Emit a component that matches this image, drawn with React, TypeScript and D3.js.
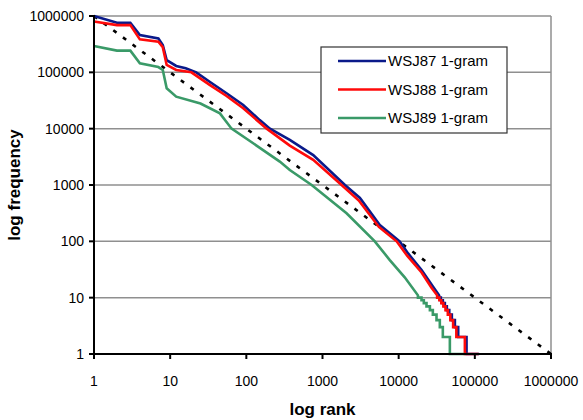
import * as d3 from 'd3';

// rank / frequency readings, upper (smooth) part of each curve
const ranks87 = [1, 2, 3, 4, 7, 8, 9, 12, 16, 22, 33, 55, 91, 150, 204, 372, 755, 1970, 3100, 5650, 10300, 13300, 20000, 28000, 34000];
const freq87 = [1000000, 760000, 760000, 460000, 400000, 305000, 165000, 130000, 118000, 100000, 68000, 42600, 26300, 14200, 10000, 6300, 3400, 1000, 590, 195, 100, 61, 31, 16, 11];

const ranks88 = [1, 2, 3, 4, 7, 8, 9, 12, 19, 33, 55, 91, 185, 372, 755, 1780, 3000, 5500, 9400, 13000, 20000, 27000, 32000];
const freq88 = [800000, 690000, 690000, 385000, 350000, 280000, 135000, 110000, 100000, 60000, 38000, 23000, 10000, 5000, 2800, 1000, 530, 180, 100, 55, 28, 15, 11];

const ranks89 = [1, 2, 3, 4, 7, 8, 9, 12, 25, 45, 64, 123, 275, 372, 720, 2070, 4860, 7600, 12000, 17900];
const freq89 = [293000, 243000, 243000, 145000, 124000, 110000, 52000, 37000, 28000, 18700, 10000, 5500, 2600, 1850, 1000, 315, 100, 47, 23, 11];

// low-frequency tail: last rank that has each frequency
const tailFreqs = [10, 9, 8, 7, 6, 5, 4, 3, 2, 1];
const tail87 = [35800, 38000, 40400, 42900, 46200, 49900, 54700, 60500, 77800, 114000];
const tail88 = [34200, 36300, 38600, 41200, 44200, 47700, 51900, 57200, 74000, 112000];
const tail89 = [19950, 21400, 23200, 25700, 28100, 31400, 34700, 38000, 47000, 74000];

const zipfRanks = [1, 1000000];
const zipfFreqs = [1000000, 1];

const xTicks = [1, 10, 100, 1000, 10000, 100000, 1000000];
const yTicks = [1, 10, 100, 1000, 10000, 100000, 1000000];

const series = [
  { name: 'WSJ87 1-gram', color: '#0a1a8a', ranks: ranks87, freqs: freq87, tail: tail87 },
  { name: 'WSJ88 1-gram', color: '#ff0a0a', ranks: ranks88, freqs: freq88, tail: tail88 },
  { name: 'WSJ89 1-gram', color: '#3a9a68', ranks: ranks89, freqs: freq89, tail: tail89 },
];

const W = 583;
const H = 420;
const margin = { left: 94, right: 32, top: 16, bottom: 66 };

function buildPoints(ranks: number[], freqs: number[], tail: number[]) {
  const pts: [number, number][] = ranks.map((r, i) => [r, freqs[i]]);
  let prev = ranks[ranks.length - 1];
  tailFreqs.forEach((f, i) => {
    pts.push([prev, f]);
    pts.push([tail[i], f]);
    prev = tail[i];
  });
  return pts;
}

export default function App() {
  const x = d3.scaleLog().domain([1, 1000000]).range([margin.left, W - margin.right]);
  const y = d3.scaleLog().domain([1, 1000000]).range([H - margin.bottom, margin.top]);
  const line = d3.line<[number, number]>().x(d => x(d[0])).y(d => y(d[1]));
  const x0 = x(1), x1 = x(1000000), y0 = y(1), y1 = y(1000000);
  const font = 'Liberation Sans, Arial, sans-serif';

  const legX = 321, legY = 47;

  return (
    <div style={{ position: 'absolute', left: 0, top: 0 }}>
      <svg width={W} height={H} style={{ display: 'block', background: '#fff' }} fontFamily={font}>
        {/* grid */}
        {yTicks.map(t => (
          <line key={'g' + t} x1={x0} x2={x1} y1={y(t)} y2={y(t)} stroke="#8f8f8f" strokeWidth={1.5} />
        ))}
        <line x1={x1} x2={x1} y1={y1} y2={y0} stroke="#8f8f8f" strokeWidth={1.5} />

        {/* zipf reference */}
        <path d={line(zipfRanks.map((r, i) => [r, zipfFreqs[i]]) as [number, number][]) || ''}
          fill="none" stroke="#000" strokeWidth={2.6} strokeDasharray="4,8" />

        {series.map(s => (
          <path key={s.name} d={line(buildPoints(s.ranks, s.freqs, s.tail)) || ''}
            fill="none" stroke={s.color} strokeWidth={2.6} strokeLinejoin="miter" />
        ))}

        {/* axes */}
        <line x1={x0} x2={x0} y1={y1 - 1} y2={y0 + 1} stroke="#000" strokeWidth={2} />
        <line x1={x0 - 1} x2={x1 + 1} y1={y0} y2={y0} stroke="#000" strokeWidth={2} />
        {yTicks.map(t => (
          <g key={'y' + t}>
            <line x1={x0 - 5} x2={x0} y1={y(t)} y2={y(t)} stroke="#000" strokeWidth={2} />
            <text x={x0 - 10} y={y(t)} dy="0.35em" textAnchor="end" fontSize={14} fill="#000">{t}</text>
          </g>
        ))}
        {xTicks.map(t => (
          <g key={'x' + t}>
            <line x1={x(t)} x2={x(t)} y1={y0} y2={y0 + 5} stroke="#000" strokeWidth={2} />
            <text x={x(t)} y={y0 + 32} textAnchor="middle" fontSize={14} fill="#000">{t}</text>
          </g>
        ))}

        <text x={(x0 + x1) / 2} y={415} textAnchor="middle" fontSize={17} fontWeight="bold">log rank</text>
        <text transform={`translate(20,${(y0 + y1) / 2}) rotate(-90)`} textAnchor="middle" fontSize={17} fontWeight="bold">log frequency</text>

        {/* legend */}
        <rect x={legX} y={legY} width={186} height={86} fill="#fff" stroke="#333" strokeWidth={1.2} />
        {series.map((s, i) => (
          <g key={'l' + s.name} transform={`translate(${legX},${legY + 14 + i * 28.5})`}>
            <line x1={17} x2={65} y1={0} y2={0} stroke={s.color} strokeWidth={2.6} />
            <text x={67} y={0} dy="0.36em" fontSize={15} fill="#000">{s.name}</text>
          </g>
        ))}
      </svg>
    </div>
  );
}
